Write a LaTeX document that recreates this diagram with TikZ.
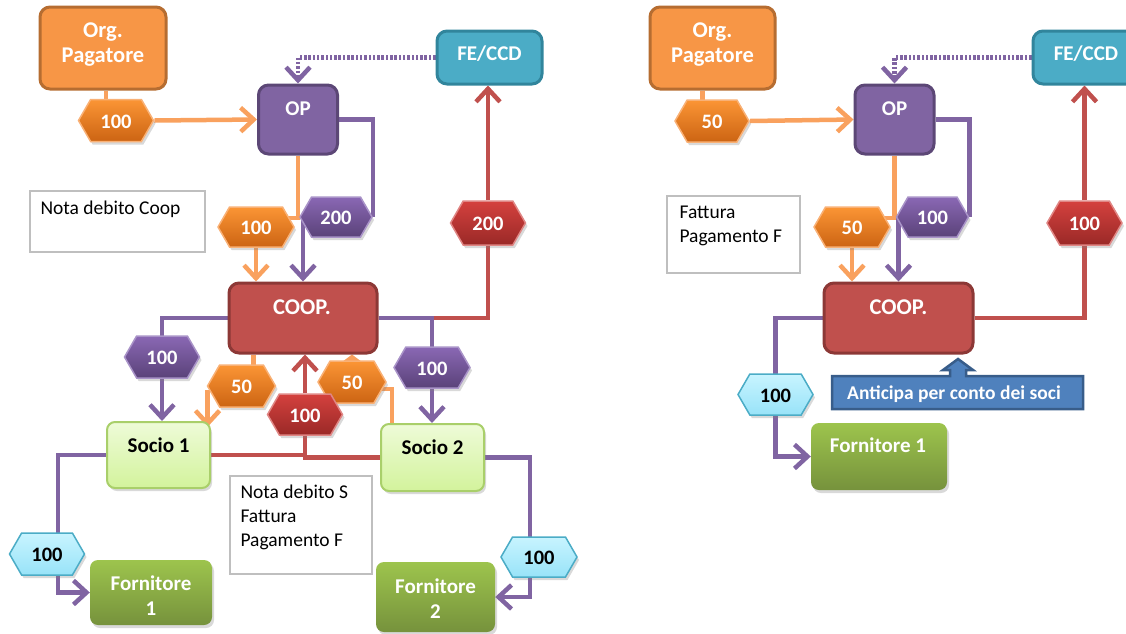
\documentclass[tikz,border=0pt]{standalone}
\usepackage{fontspec}
\setmainfont{Carlito}
\usetikzlibrary{shapes.symbols,shadows,arrows.meta}
\pgfdeclarelayer{bg}
\pgfsetlayers{bg,main}
\definecolor{cOrange}{HTML}{F79646}
\definecolor{cOrangeD}{HTML}{B66D31}
\definecolor{cOrangeL}{HTML}{F9A15E}
\definecolor{cPurple}{HTML}{8064A2}
\definecolor{cPurpleD}{HTML}{5C4776}
\definecolor{cTeal}{HTML}{4BACC6}
\definecolor{cTealD}{HTML}{31859C}
\definecolor{cRed}{HTML}{C0504D}
\definecolor{cRedD}{HTML}{8C3836}
\definecolor{cGreenT}{HTML}{9DC44D}
\definecolor{cGreenB}{HTML}{76923C}
\definecolor{cSocioT}{HTML}{EEFBD8}
\definecolor{cSocioB}{HTML}{D3F39C}
\definecolor{cSocioD}{HTML}{A9CF6A}
\definecolor{cBlue}{HTML}{4F81BD}
\definecolor{cBlueD}{HTML}{385D8A}
\definecolor{hOT}{HTML}{FB9535}
\definecolor{hOB}{HTML}{CC6413}
\definecolor{hOE}{HTML}{F9B176}
\definecolor{hPT}{HTML}{8A68B4}
\definecolor{hPB}{HTML}{5A4279}
\definecolor{hPE}{HTML}{A993C8}
\definecolor{hRT}{HTML}{D4413E}
\definecolor{hRB}{HTML}{9A2927}
\definecolor{hRE}{HTML}{E08684}
\definecolor{hBT}{HTML}{C8F4FF}
\definecolor{hBB}{HTML}{98E3F8}
\definecolor{hBE}{HTML}{4BACC6}
\definecolor{noteD}{HTML}{BFBFBF}
\tikzset{
  box/.style={rectangle, rounded corners=10pt, line width=3pt, inner sep=0pt},
  orgbox/.style={box, fill=cOrange, draw=cOrangeD, minimum width=126pt, minimum height=82pt},
  opbox/.style={box, fill=cPurple, draw=cPurpleD, minimum width=79pt, minimum height=69pt},
  febox/.style={box, fill=cTeal, draw=cTealD, minimum width=105pt, minimum height=53pt},
  coopbox/.style={box, fill=cRed, draw=cRedD, minimum width=148pt, minimum height=70pt},
  sociobox/.style={rectangle, rounded corners=8pt, line width=2pt, draw=cSocioD, top color=cSocioT, bottom color=cSocioB, minimum width=103pt, minimum height=66pt, drop shadow={opacity=0.3, shadow xshift=2pt, shadow yshift=-3pt}},
  fornbox/.style={rectangle, rounded corners=8pt, draw=none, top color=cGreenT, bottom color=cGreenB, minimum height=66pt, drop shadow={opacity=0.3, shadow xshift=2pt, shadow yshift=-3pt}},
  notebox/.style={rectangle, draw=noteD, line width=1.3pt, fill=white},
  notetext/.style={inner sep=0pt, align=left, font=\fontsize{19.5}{24}\selectfont},
  btext/.style={inner sep=0pt, align=center, text=white, font=\bfseries\fontsize{21}{25}\selectfont},
  bigtext/.style={btext, font=\bfseries\fontsize{22.5}{25}\selectfont},
  ktext/.style={btext, text=black},
  hexa/.style={signal, signal to=east and west, signal pointer angle=120, minimum width=75pt, minimum height=42pt, inner sep=0pt, text height=16pt, line width=1.5pt, text=white, font=\bfseries\fontsize{20.5}{22}\selectfont, drop shadow={opacity=0.3, shadow xshift=2pt, shadow yshift=-3pt}},
  hexo/.style={hexa, top color=hOT, bottom color=hOB, draw=hOE},
  hexp/.style={hexa, top color=hPT, bottom color=hPB, draw=hPE},
  hexr/.style={hexa, top color=hRT, bottom color=hRB, draw=hRE},
  hexb/.style={hexa, top color=hBT, bottom color=hBB, draw=hBE, text=black},
  ol/.style={line width=4.5pt, draw=cOrangeL},
  pl/.style={line width=4.5pt, draw=cPurple},
  rl/.style={line width=4.5pt, draw=cRed},
  dl/.style={pl, dash pattern=on 2.5pt off 1.8pt},
  ar/.style={-{Straight Barb[length=13pt,width=24pt]}},
}
\begin{document}
\begin{tikzpicture}[x=1pt,y=-1pt]
\useasboundingbox (0,0) rectangle (1126,633);
\clip (0,0) rectangle (1126,633);
% ---------------- left panel ----------------
\node[orgbox] (org) at (103,48) {};
\node[bigtext] (orgT) at (103,45) {Org.\\Pagatore};
\node[opbox] (op) at (298,119.5) {};
\node[btext] (opT) at (298,109) {OP};
\node[febox] (fe) at (489.5,57.5) {};
\node[btext] (feT) at (489.5,54) {FE/CCD};
\node[coopbox] (coop) at (303,318) {};
\node[bigtext] (coopT) at (302,307) {COOP.};
\node[sociobox] (socio1) at (158.5,455) {};
\node[ktext] (socio1T) at (158.5,445) {Socio 1};
\node[sociobox, minimum height=67pt] (socio2) at (432.5,457.5) {};
\node[ktext] (socio2T) at (432.5,447) {Socio 2};
\node[fornbox, minimum width=122pt, minimum height=65pt] (forn1) at (151,592.5) {};
\node[btext] (forn1T) at (151,596) {Fornitore\\1};
\node[fornbox, minimum width=119pt, minimum height=70pt] (forn2) at (435.5,597) {};
\node[btext] (forn2T) at (435.5,598.5) {Fornitore\\2};
\node[notebox, minimum width=175pt, minimum height=61pt] (note1) at (117.5,221.5) {};
\node[notetext, anchor=north west] (note1T) at ([xshift=11pt,yshift=-10pt]note1.north west) {Nota debito Coop};
\node[notebox, minimum width=142pt, minimum height=98pt] (note2) at (301,525) {};
\node[notetext, anchor=north west] (note2T) at ([xshift=11pt,yshift=-9pt]note2.north west) {Nota debito S\\Fattura\\Pagamento F};

\node[hexo] (hOrg) at (116,120.5) {100};
\node[hexo, minimum width=76pt, minimum height=40pt] (hO2) at (256,227) {100};
\node[hexp, minimum width=72pt, minimum height=40pt] (hP1) at (336,217) {200};
\node[hexr, minimum height=44pt] (hR1) at (488,223) {200};
\node[hexp] (hP2) at (162,357) {100};
\node[hexp, minimum width=76pt, minimum height=41pt] (hP3) at (432,367.5) {100};
\node[hexo, minimum width=68pt] (hO3) at (241.5,386) {50};
\node[hexo, minimum width=68pt] (hO4) at (352,382) {50};
\node[hexr, minimum height=41pt] (hR2) at (305,414.5) {100};
\node[hexb] (hB1) at (47,554) {100};
\node[hexb, minimum width=76pt, minimum height=40pt] (hB2) at (539,557) {100};

% ---------------- right panel ----------------
\node[orgbox, minimum width=125pt] (org2) at (712.5,48) {};
\node[bigtext] (org2T) at (712.5,45) {Org.\\Pagatore};
\node[opbox] (op2) at (894.5,119.5) {};
\node[btext] (op2T) at (894.5,109) {OP};
\node[febox, minimum width=106pt] (fe2) at (1086,57.5) {};
\node[btext] (fe2T) at (1086,54) {FE/CCD};
\node[coopbox, minimum width=149pt] (coop2) at (898.5,318) {};
\node[bigtext] (coop2T) at (898.5,307) {COOP.};
\node[fornbox, minimum width=136pt, minimum height=67pt] (forn3) at (879,456.5) {};
\node[btext] (forn3T) at (878,445) {Fornitore 1};
\node[notebox, minimum width=133pt, minimum height=77pt] (note3) at (733.5,234.5) {};
\node[notetext, anchor=north west] (note3T) at ([xshift=13pt,yshift=-10pt]note3.north west) {Fattura\\Pagamento F};
\filldraw[fill=cBlue, draw=cBlueD, line width=2.5pt, line join=miter]
  (832,376) -- (950,376) -- (950,370) -- (943,370) -- (958,359) -- (973,370)
  -- (966,370) -- (966,376) -- (1083,376) -- (1083,409) -- (832,409) -- cycle;
\node[btext, font=\bfseries\fontsize{19.5}{22}\selectfont] (anticipa) at (954,394) {Anticipa per conto dei soci};

\node[hexo, minimum width=74pt] (hOrg2) at (712,121) {50};
\node[hexp, minimum width=72pt, minimum height=40pt] (hP4) at (932.5,217) {100};
\node[hexo, minimum width=76pt, minimum height=40pt] (hO5) at (852,227) {50};
\node[hexr, minimum height=44pt] (hR3) at (1084.5,223) {100};
\node[hexb, minimum height=41pt] (hB3) at (775.5,394.5) {100};

% ---------------- connectors ----------------
\begin{pgfonlayer}{bg}
% left
\draw[ol] ([xshift=3pt]org.south) -- ([xshift=3pt]org.south |- hOrg.center);
\draw[ol, ar] (hOrg.east) -- (op.west);
\draw[dl, ar] (fe.west) -| (op.north);
\draw[pl] (op.east) -| (hP1.east);
\draw[ol] (op.south) |- ([yshift=9pt]hO2.center);
\draw[ol, ar] (hO2.south) -- (hO2.south |- coop.north);
\draw[pl, ar] (coop.north |- hP1.center) -- (coop.north);
\draw[rl] (coop.east) -| (hR1.center);
\draw[rl, ar] (hR1.north) -- (hR1.north |- fe.south);
\draw[pl] (coop.east) -| (hP3.center);
\draw[pl, ar] (hP3.south) -- (hP3.south |- socio2.north);
\draw[pl] (coop.west) -| (hP2.center);
\draw[pl, ar] (hP2.south) -- (hP2.south |- socio1.north);
\draw[ol] ([xshift=12pt]hO3.center) -- ([xshift=12pt]hO3.center |- coop.south);
\draw[ol, ar] ([xshift=-34pt,yshift=-4pt]hO3.center) -- ([xshift=-34pt,yshift=-6pt]hO3.center |- socio1.north);
\draw[rl] (socio1.east) -| (hR2.center);
\draw[rl] (socio2.west) -| (hR2.center);
\draw[rl, ar] (hR2.north) -- (hR2.north |- coop.south);
\draw[ol] ([xshift=12pt]socio2.north west) |- ([yshift=-7pt]hO4.center);
\draw[ol, -{Straight Barb[length=6pt,width=16pt]}] (hO4.center) -- (hO4.center |- coop.south);
\draw[pl] (socio1.west) -| ([xshift=11pt]hB1.center);
\draw[pl, ar] ([xshift=11pt]hB1.center) |- (forn1.west);
\draw[pl] (socio2.east) -| ([xshift=-9pt]hB2.center);
\draw[pl, ar] ([xshift=-9pt]hB2.center) |- (forn2.east);
% right
\draw[ol] ([xshift=-10pt]org2.south) -- ([xshift=-10pt]org2.south |- hOrg2.center);
\draw[ol, ar] (hOrg2.east) -- (op2.west);
\draw[dl, ar] (fe2.west) -| (op2.north);
\draw[pl] (op2.east) -| (hP4.east);
\draw[ol] (op2.south) |- ([yshift=9pt]hO5.center);
\draw[ol, ar] (hO5.south) -- (hO5.south |- coop2.north);
\draw[pl, ar] (coop2.north |- hP4.center) -- (coop2.north);
\draw[rl] (coop2.east) -| (hR3.center);
\draw[rl, ar] (hR3.north) -- (hR3.north |- fe2.south);
\draw[pl] (coop2.west) -| (hB3.center);
\draw[pl, ar] (hB3.center) |- (forn3.west);
\end{pgfonlayer}
\end{tikzpicture}
\end{document}
